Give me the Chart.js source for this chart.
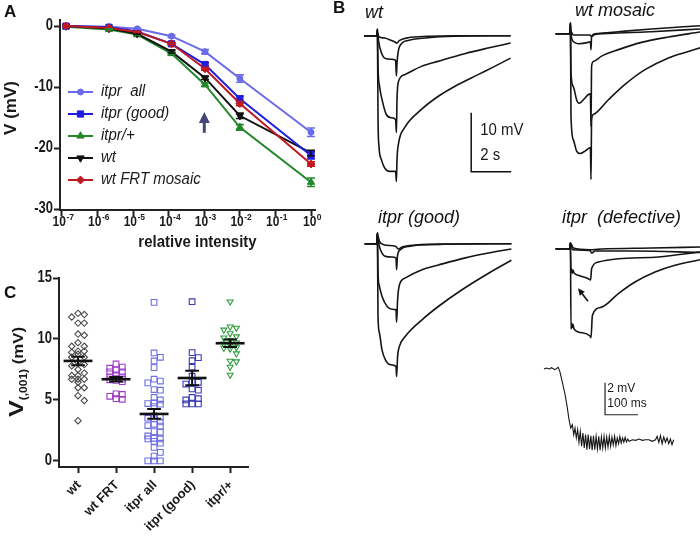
<!DOCTYPE html>
<html><head><meta charset="utf-8">
<script src="https://cdn.jsdelivr.net/npm/chart.js@4.4.1/dist/chart.umd.min.js"></script>
<style>
html,body{margin:0;padding:0;background:#fff;width:700px;height:536px;overflow:hidden;}
#wrap{position:relative;width:700px;height:536px;overflow:hidden;}
canvas{position:absolute;}
.lbl{position:absolute;font-family:"Liberation Sans",Arial,sans-serif;color:#111;white-space:pre;line-height:1;}
.pl{font-weight:bold;font-size:17px;}
.it{font-style:italic;font-size:18px;}
</style></head><body>
<div id="wrap">
<canvas id="cA" width="335" height="260" style="left:0;top:0"></canvas>
<canvas id="cC" width="335" height="266" style="left:0;top:270px"></canvas>
<canvas id="bWt" width="173" height="171" style="left:362px;top:18px"></canvas>
<canvas id="bMos" width="173" height="171" style="left:555px;top:16px"></canvas>
<canvas id="bGood" width="173" height="171" style="left:362px;top:226px"></canvas>
<canvas id="bDef" width="173" height="171" style="left:555px;top:231px"></canvas>
<canvas id="bIns" width="141" height="96" style="left:542px;top:361px"></canvas>
<div class="lbl pl" style="left:4px;top:3px">A</div>
<div class="lbl pl" style="left:333px;top:-1px">B</div>
<div class="lbl pl" style="left:4px;top:284px">C</div>
<div class="lbl it" style="left:365px;top:3px">wt</div>
<div class="lbl it" style="left:575px;top:1px">wt mosaic</div>
<div class="lbl it" style="left:378px;top:208px">itpr (good)</div>
<div class="lbl it" style="left:562px;top:208px">itpr  (defective)</div>
</div>
<script>
// ---------------- Panel A data ----------------
const intensity = [1.3e-7, 2.1e-6, 1.3e-5, 1.2e-4, 1.05e-3, 1e-2, 1];
const seriesLabels = ['itpr  all', 'itpr (good)', 'itpr/+', 'wt', 'wt FRT mosaic'];
const vItprAll  = [0, -0.1, -0.45, -1.65, -4.2, -8.6, -17.4];
const vItprGood = [0, -0.2, -0.9, -2.9, -6.3, -11.9, -21.2];
const vItprHet  = [-0.1, -0.55, -1.4, -4.5, -9.6, -16.6, -25.6];
const vWt       = [0, -0.4, -1.25, -4.2, -8.5, -14.7, -20.8];
const vWtFrt    = [0, -0.3, -0.95, -2.9, -7.0, -12.7, -22.6];
const eItprAll  = [0, 0, 0.1, 0.2, 0.35, 0.6, 0.7];
const eItprGood = [0, 0, 0.1, 0.2, 0.3, 0.45, 0.6];
const eItprHet  = [0, 0.1, 0.1, 0.2, 0.3, 0.45, 0.7];
const eWt       = [0, 0, 0.1, 0.2, 0.25, 0.45, 0.45];
const eWtFrt    = [0, 0, 0.1, 0.15, 0.25, 0.35, 0.35];
const xTickExp  = [-7, -6, -5, -4, -3, -2, -1, 0];
const yTicksA   = [0, -10, -20, -30];
const arrowIntensity = 1e-3;
const arrowFromTo = [-17.5, -14.1];

// ---------------- Panel C data ----------------
const groupLabels = ['wt', 'wt FRT', 'itpr all', 'itpr (good)', 'itpr/+'];
const cWt = [12.1, 12.0, 11.8, 11.3, 11.3, 10.4, 10.3, 9.7, 9.4, 9.4, 9.0, 9.0, 8.9, 8.75, 8.5, 8.5, 8.1, 7.9, 7.8, 7.5, 7.2, 7.0, 7.0, 6.7, 6.7, 6.7, 6.45, 6.0, 6.0, 5.35, 4.95, 3.3];
const cWtFrt = [7.95, 7.7, 7.6, 7.45, 7.3, 7.3, 7.05, 6.9, 6.9, 6.75, 6.7, 6.65, 6.6, 6.5, 5.5, 5.45, 5.3, 5.1, 5.05];
const cItprAll = [13.0, 8.85, 8.5, 8.2, 7.65, 6.7, 6.55, 6.4, 5.85, 5.8, 5.2, 5.0, 4.75, 4.7, 4.65, 4.45, 3.7, 3.6, 3.5, 3.45, 3.2, 3.0, 2.9, 2.85, 2.4, 2.35, 2.05, 1.85, 1.8, 1.8, 1.6, 1.45, 1.1, 0.7, 0.4, 0.0, 0.0, 0.0];
const cItprGood = [13.06, 8.88, 8.47, 8.22, 7.68, 6.95, 6.5, 6.45, 6.3, 5.9, 5.8, 5.2, 5.1, 5.0, 4.67, 4.67, 4.67];
const cItprHet = [13.06, 11.0, 10.9, 10.75, 10.45, 10.2, 10.1, 9.9, 9.7, 9.6, 9.5, 9.3, 9.25, 9.2, 8.8, 8.2, 8.15, 7.7, 7.05];
const groupMeans = [8.2, 6.7, 3.85, 6.8, 9.65];
const groupSems  = [0.35, 0.18, 0.4, 0.6, 0.3];
const yTicksC = [0, 5, 10, 15];

// ---------------- Panel B traces: [time s, mV] ----------------
const wtTr1 = [[-0.65,0],[-0.02,0],[0.02,0.45],[0.08,-0.1],[0.38,-0.4],[0.72,-0.8],[0.92,-1.1],[0.98,-1.25],[1.13,-0.8],[1.55,-0.35],[2.55,-0.1],[3.88,0],[6.68,0]];
const wtTr2 = [[-0.65,0],[-0.02,0],[0.02,0.9],[0.08,-0.95],[0.22,-2.9],[0.38,-3.8],[0.72,-4.0],[0.93,-4.2],[0.97,-6.8],[1.0,-4.6],[1.13,-1.8],[1.55,-0.8],[2.55,-0.35],[3.88,-0.1],[6.68,0]];
const wtTr3 = [[-0.65,0],[-0.02,0],[0.02,1.1],[0.05,-5.2],[0.13,-8.6],[0.25,-10.8],[0.47,-13.4],[0.72,-13.9],[0.93,-14.2],[0.97,-16.4],[1.0,-10.8],[1.08,-7.7],[1.38,-6.6],[2.22,-5.2],[3.05,-4.35],[4.38,-3.05],[5.55,-2.1],[6.68,-1.25]];
const wtTr4 = [[-0.65,0],[-0.02,0],[0.02,1.1],[0.05,-13.7],[0.1,-18.8],[0.22,-21],[0.38,-22.4],[0.63,-23],[0.93,-23],[0.97,-24.7],[1.0,-21],[1.08,-18.2],[1.38,-15.6],[2.22,-12.5],[3.05,-10.3],[3.88,-8.6],[5.05,-6.6],[5.88,-5.2],[6.68,-3.8]];

const mosTr1 = [[-0.72,0],[-0.02,0],[0.05,0.34],[0.17,-0.23],[1.0,-0.23],[1.08,-0.45],[1.25,-0.11],[2.42,0.11],[4.08,0.34],[6.5,0.8]];
const mosTr2 = [[-0.72,0],[-0.02,0],[0.02,1.8],[0.08,-0.73],[0.22,-1.47],[0.42,-1.7],[0.92,-1.47],[1.02,-1.36],[1.05,-2.7],[1.08,-0.45],[1.25,0],[2.42,0.34],[4.08,0.8],[6.5,1.36]];
const mosTr3 = [[-0.72,0],[-0.02,0],[0.02,1.8],[0.05,-6.7],[0.17,-9.0],[0.33,-11.2],[0.45,-11.8],[0.75,-10.9],[0.92,-10.3],[1.02,-10.2],[1.05,-15.7],[1.08,-5.5],[1.17,-4.7],[1.58,-3.8],[2.42,-2.7],[3.58,-1.47],[4.92,-0.56],[6.5,0.28]];
const mosTr4 = [[-0.72,0],[-0.02,0],[0.02,1.8],[0.05,-14.0],[0.17,-18.0],[0.33,-19.9],[0.5,-20.3],[0.75,-19.9],[0.95,-19.4],[1.02,-19.3],[1.05,-24.7],[1.08,-14.6],[1.17,-13.7],[1.92,-11.2],[2.75,-8.6],[3.75,-6.1],[4.92,-4.1],[5.92,-3.0],[6.5,-2.4]];

const goodTr1 = [[-0.62,0],[-0.02,0],[0.02,1.5],[0.12,0.4],[0.33,-0.17],[0.92,-0.45],[1.08,-0.9],[1.25,-0.56],[1.92,-0.23],[3.92,-0.06],[6.72,0]];
const goodTr2 = [[-0.62,0],[-0.02,0],[0.02,1.8],[0.12,-0.45],[0.25,-1.58],[0.42,-2.15],[0.75,-2.26],[0.95,-2.43],[0.98,-4.4],[1.02,-2.15],[1.17,-1.0],[1.58,-0.45],[3.08,-0.11],[6.72,0]];
const goodTr3 = [[-0.62,0],[-0.02,0],[0.02,1.8],[0.05,-4.97],[0.12,-7.2],[0.25,-8.9],[0.5,-10.6],[0.75,-11.1],[0.95,-11.2],[0.98,-13.3],[1.03,-9.5],[1.12,-7.0],[1.42,-5.8],[2.25,-4.4],[3.08,-3.6],[4.42,-2.4],[5.58,-1.58],[6.72,-0.9]];
const goodTr4 = [[-0.62,0],[-0.02,0],[0.02,1.8],[0.05,-12.3],[0.12,-15.1],[0.25,-18],[0.42,-19.7],[0.67,-20.5],[0.95,-20.8],[0.98,-22.5],[1.03,-19.1],[1.12,-17.4],[1.42,-15.7],[2.25,-12.9],[3.08,-10.6],[4.25,-7.8],[5.58,-5.0],[6.72,-2.8]];

const defTr1 = [[-0.72,0],[-0.02,0],[0.02,0.96],[0.17,0.11],[1.0,-0.17],[1.12,-0.17],[1.58,-0.06],[4.08,0.11],[6.5,0.28]];
const defTr2 = [[-0.72,0],[-0.02,0],[0.02,0.96],[0.12,-0.17],[1.0,-0.28],[1.08,-0.73],[1.25,-0.4],[3.25,-0.4],[6.5,-0.62]];
const defTr3 = [[-0.72,0],[-0.02,0],[0.02,0.96],[0.05,-4.0],[0.08,-3.4],[0.11,-4.2],[0.15,-3.6],[0.2,-4.1],[0.42,-4.5],[0.92,-5.1],[1.03,-5.3],[1.08,-3.4],[1.42,-2.26],[2.42,-1.7],[4.42,-1.4],[6.5,-0.56]];
const defTr4 = [[-0.72,0],[-0.02,0],[0.02,0.96],[0.05,-13.6],[0.08,-12.6],[0.11,-13.4],[0.15,-12.8],[0.2,-13.6],[0.42,-14.1],[1.0,-14.8],[1.05,-15.1],[1.12,-11.3],[1.58,-9.9],[2.42,-7.6],[3.25,-5.65],[4.25,-3.95],[5.25,-2.8],[6.5,-1.86]];

// inset: [time ms, mV]
const insetTrace = [[0,0],[8,0.06],[16,0],[23,0.08],[33,-0.04],[43,0.1],[48,-0.15],[55,-0.77],[63,-1.5],[70,-2.33],[76,-3.17],[81,-3.69],[86,-3.48],[90,-4.1],[94,-3.69],[98,-4.31],[102,-3.79],[106,-4.58],[110,-3.9],[114,-4.83],[118,-4.0],[122,-4.94],[126,-4.1],[130,-5.04],[134,-4.1],[138,-5.0],[142,-4.17],[146,-5.08],[150,-4.17],[154,-5.04],[158,-4.21],[162,-5.0],[166,-4.21],[170,-5.08],[174,-4.25],[178,-4.94],[182,-4.21],[186,-4.94],[190,-4.25],[194,-4.88],[198,-4.21],[202,-4.83],[206,-4.25],[210,-4.75],[214,-4.21],[218,-4.79],[222,-4.31],[226,-4.67],[230,-4.21],[234,-4.63],[238,-4.31],[242,-4.58],[246,-4.27],[250,-4.56],[254,-4.38],[258,-4.52],[268,-4.42],[278,-4.46],[288,-4.38],[298,-4.46],[308,-4.42],[318,-4.42],[328,-4.52],[338,-4.42],[343,-4.21],[348,-4.58],[353,-4.17],[358,-4.67],[363,-4.25],[368,-4.58],[373,-4.31],[378,-4.67],[383,-4.38],[388,-4.73],[393,-4.42]];

// ================= rendering =================
const FONT = '"Liberation Sans", Arial, sans-serif';
Chart.defaults.font.family = FONT;
Chart.defaults.animation = false;
const TXT = '#1a1a1a';

function sText(ctx, txt, x, y, font, align, base, sy) {
  ctx.save(); ctx.translate(x, y); ctx.scale(1, sy || 1);
  ctx.font = font; ctx.textAlign = align; ctx.textBaseline = base; ctx.fillStyle = TXT;
  ctx.fillText(txt, 0, 0); ctx.restore();
}
function axisOpts(extra) {
  return Object.assign({
    border: {display: true, color: '#222', width: 2},
    grid: {display: true, drawOnChartArea: false, drawTicks: true, tickLength: 6, tickWidth: 2, tickColor: '#222'},
    ticks: {display: false}
  }, extra);
}

// ---------- Panel A ----------
const colorsA = ['#6b6bea', '#1e1ee0', '#22882a', '#111111', '#c01a20'];
const ptA = [
  {pointStyle: 'circle', radius: 3, rotation: 0},
  {pointStyle: 'rect', radius: 4.4, rotation: 0},
  {pointStyle: 'triangle', radius: 4.2, rotation: 0},
  {pointStyle: 'triangle', radius: 4.2, rotation: 180},
  {pointStyle: 'rectRot', radius: 4, rotation: 0}
];
const valsA = [vItprAll, vItprGood, vItprHet, vWt, vWtFrt];
const errA = [eItprAll, eItprGood, eItprHet, eWt, eWtFrt];
const drawOrder = [5, 2, 4, 3, 1];

const panelAPlugin = {
  id: 'panelA',
  afterDatasetsDraw(chart) {
    const {ctx, scales: {x, y}} = chart;
    chart.data.datasets.forEach((ds, i) => {
      ctx.save(); ctx.strokeStyle = ds.borderColor; ctx.lineWidth = 1.6;
      ds.data.forEach((p, j) => {
        const e = errA[i][j]; if (!e) return;
        const px = x.getPixelForValue(p.x);
        const y1 = y.getPixelForValue(p.y + e), y2 = y.getPixelForValue(p.y - e);
        ctx.beginPath();
        ctx.moveTo(px, y1); ctx.lineTo(px, y2);
        ctx.moveTo(px - 4, y1); ctx.lineTo(px + 4, y1);
        ctx.moveTo(px - 4, y2); ctx.lineTo(px + 4, y2);
        ctx.stroke();
      });
      ctx.restore();
    });
  },
  afterDraw(chart) {
    const {ctx, scales: {x, y}, chartArea} = chart;
    xTickExp.forEach(e => {
      const px = x.getPixelForValue(Number('1e' + e));
      ctx.save();
      ctx.font = 'bold 12px ' + FONT; const w1 = ctx.measureText('10').width;
      ctx.font = 'bold 8.5px ' + FONT; const w2 = ctx.measureText(String(e)).width;
      ctx.restore();
      const sx = px - (w1 + w2) / 2 + 1;
      sText(ctx, '10', sx, chartArea.bottom + 16, 'bold 12px ' + FONT, 'left', 'alphabetic', 1.2);
      sText(ctx, String(e), sx + w1 + 0.5, chartArea.bottom + 10, 'bold 8.5px ' + FONT, 'left', 'alphabetic', 1.15);
    });
    yTicksA.forEach(v => {
      sText(ctx, String(v), chartArea.left - 7, y.getPixelForValue(v), 'bold 13px ' + FONT, 'right', 'middle', 1.2);
    });
    sText(ctx, 'relative intensity', (chartArea.left + chartArea.right) / 2 + 10, chartArea.bottom + 33, 'bold 15px ' + FONT, 'center', 'middle', 1.05);
    ctx.save(); ctx.translate(15.5, 108); ctx.rotate(-Math.PI / 2);
    ctx.font = 'bold 17px ' + FONT; ctx.fillStyle = TXT; ctx.textAlign = 'center'; ctx.textBaseline = 'alphabetic';
    ctx.fillText('V (mV)', 0, 0); ctx.restore();
    chart.data.datasets.forEach((ds, i) => {
      const ly = 92 + 22 * i;
      ctx.save();
      ctx.strokeStyle = ds.borderColor; ctx.lineWidth = 2;
      ctx.beginPath(); ctx.moveTo(68, ly); ctx.lineTo(93, ly); ctx.stroke();
      ctx.fillStyle = ds.borderColor; ctx.strokeStyle = ds.borderColor; ctx.lineWidth = 1;
      Chart.helpers.drawPoint(ctx, {pointStyle: ptA[i].pointStyle, rotation: ptA[i].rotation, radius: ptA[i].radius, borderWidth: 1}, 80.5, ly);
      ctx.restore();
      sText(ctx, seriesLabels[i], 101, ly, 'italic 15px ' + FONT, 'left', 'middle', 1.05);
    });
    const ax = x.getPixelForValue(arrowIntensity);
    const yTail = y.getPixelForValue(arrowFromTo[0]), yTip = y.getPixelForValue(arrowFromTo[1]);
    ctx.save(); ctx.fillStyle = '#46467a'; ctx.strokeStyle = '#46467a'; ctx.lineWidth = 3;
    ctx.beginPath(); ctx.moveTo(ax, yTail); ctx.lineTo(ax, yTip + 8); ctx.stroke();
    ctx.beginPath(); ctx.moveTo(ax, yTip); ctx.lineTo(ax - 5.5, yTip + 11); ctx.lineTo(ax + 5.5, yTip + 11); ctx.closePath(); ctx.fill();
    ctx.restore();
  }
};

new Chart(document.getElementById('cA'), {
  type: 'line',
  data: {
    datasets: valsA.map((vals, i) => ({
      label: seriesLabels[i],
      data: intensity.map((xv, j) => ({x: xv, y: vals[j]})),
      borderColor: colorsA[i], backgroundColor: colorsA[i],
      borderWidth: 2, tension: 0,
      pointStyle: ptA[i].pointStyle, pointRotation: ptA[i].rotation,
      pointRadius: ptA[i].radius, pointBorderWidth: 1,
      order: drawOrder[i]
    }))
  },
  options: {
    responsive: false, events: [],
    layout: {padding: {left: 0, top: 20, right: 20, bottom: 0}},
    plugins: {legend: {display: false}, tooltip: {enabled: false}},
    scales: {
      x: axisOpts({type: 'logarithmic', min: Math.pow(10, -7.056), max: Math.pow(10, 0.112),
        afterBuildTicks: s => { s.ticks = xTickExp.map(e => ({value: Number('1e' + e)})); },
        afterFit: s => { s.height = 50; }}),
      y: axisOpts({type: 'linear', min: -30.15, max: 1,
        afterBuildTicks: s => { s.ticks = yTicksA.map(v => ({value: v})); },
        afterFit: s => { s.width = 60; }})
    }
  },
  plugins: [panelAPlugin]
});

// ---------- Panel C ----------
const groupsC = [cWt, cWtFrt, cItprAll, cItprGood, cItprHet];
const colorsC = ['#4a4a4a', '#a03cc8', '#6e6ee6', '#3a3ab4', '#2f9a3c'];
const ptC = [
  {pointStyle: 'rectRot', radius: 3.2, rotation: 0},
  {pointStyle: 'rect', radius: 4, rotation: 0},
  {pointStyle: 'rect', radius: 4, rotation: 0},
  {pointStyle: 'rect', radius: 4, rotation: 0},
  {pointStyle: 'triangle', radius: 3.4, rotation: 180}
];
// arrange points of one group in three columns (centre, right, left), as in a column scatter plot
function swarm(vals, cat) {
  const step = 0.165, dyMin = 0.45, placed = [];
  const cands = [0, step, -step];
  return vals.slice().sort((a, b) => b - a).map(v => {
    let best = 0, bestGap = -1;
    for (const c of cands) {
      const same = placed.filter(p => Math.abs(p.x - c) < step * 0.5);
      const gap = same.length ? Math.min(...same.map(p => Math.abs(p.y - v))) : Infinity;
      if (gap >= dyMin) { best = c; bestGap = gap; break; }
      if (gap > bestGap) { best = c; bestGap = gap; }
    }
    placed.push({x: best, y: v});
    return {x: cat + best, y: v};
  });
}
const panelCPlugin = {
  id: 'panelC',
  afterDatasetsDraw(chart) {
    const {ctx, scales: {x, y}} = chart;
    ctx.save(); ctx.strokeStyle = '#111'; ctx.lineCap = 'butt';
    groupMeans.forEach((m, i) => {
      const cx = x.getPixelForValue(i + 1);
      const hw = x.getPixelForValue(i + 1 + 0.38) - cx;
      const cw = x.getPixelForValue(i + 1 + 0.18) - cx;
      const ym = y.getPixelForValue(m), yt = y.getPixelForValue(m + groupSems[i]), yb = y.getPixelForValue(m - groupSems[i]);
      ctx.lineWidth = 2.6;
      ctx.beginPath(); ctx.moveTo(cx - hw, ym); ctx.lineTo(cx + hw, ym); ctx.stroke();
      ctx.lineWidth = 2;
      ctx.beginPath(); ctx.moveTo(cx, yt); ctx.lineTo(cx, yb);
      ctx.moveTo(cx - cw, yt); ctx.lineTo(cx + cw, yt);
      ctx.moveTo(cx - cw, yb); ctx.lineTo(cx + cw, yb); ctx.stroke();
    });
    ctx.restore();
  },
  afterDraw(chart) {
    const {ctx, scales: {x, y}, chartArea} = chart;
    yTicksC.forEach(v => {
      sText(ctx, String(v), chartArea.left - 7, y.getPixelForValue(v), 'bold 13px ' + FONT, 'right', 'middle', 1.2);
    });
    groupLabels.forEach((lab, i) => {
      const cx = x.getPixelForValue(i + 1);
      ctx.save(); ctx.translate(cx + 1, chartArea.bottom + 16); ctx.rotate(-Math.PI / 4);
      ctx.font = 'bold 13px ' + FONT; ctx.fillStyle = TXT; ctx.textAlign = 'right'; ctx.textBaseline = 'middle';
      ctx.fillText(lab, 0, 0); ctx.restore();
    });
    ctx.save();
    ctx.translate(23, 102); ctx.rotate(-Math.PI / 2); ctx.scale(1.2, 1);
    ctx.fillStyle = TXT; ctx.textBaseline = 'alphabetic'; ctx.textAlign = 'left';
    ctx.font = 'bold 21px ' + FONT; const wV = ctx.measureText('V').width;
    ctx.font = 'bold 10px ' + FONT; const wS = ctx.measureText('(,001)').width;
    ctx.font = 'bold 14px ' + FONT; const wM = ctx.measureText(' (mV)').width;
    let sx = -(wV + wS + wM) / 2;
    ctx.font = 'bold 21px ' + FONT; ctx.fillText('V', sx, 0); sx += wV;
    ctx.font = 'bold 10px ' + FONT; ctx.fillText('(,001)', sx, 4); sx += wS;
    ctx.font = 'bold 14px ' + FONT; ctx.fillText(' (mV)', sx, 0);
    ctx.restore();
  }
};
new Chart(document.getElementById('cC'), {
  type: 'scatter',
  data: {
    datasets: groupsC.map((vals, i) => ({
      label: groupLabels[i],
      data: swarm(vals, i + 1),
      borderColor: colorsC[i], backgroundColor: 'rgba(255,255,255,0)',
      pointStyle: ptC[i].pointStyle, pointRotation: ptC[i].rotation,
      pointRadius: ptC[i].radius, pointBorderWidth: 1.1
    }))
  },
  options: {
    responsive: false, events: [],
    layout: {padding: {left: 0, top: 8, right: 87, bottom: 0}},
    plugins: {legend: {display: false}, tooltip: {enabled: false}},
    scales: {
      x: axisOpts({type: 'linear', min: 0.5, max: 5.47,
        afterBuildTicks: s => { s.ticks = groupLabels.map((l, i) => ({value: i + 1})); },
        afterFit: s => { s.height = 69; }}),
      y: axisOpts({type: 'linear', min: -0.5, max: 15,
        afterBuildTicks: s => { s.ticks = yTicksC.map(v => ({value: v})); },
        afterFit: s => { s.width = 59; }})
    }
  },
  plugins: [panelCPlugin]
});

// ---------- Panel B ----------
const PX_PER_S = 20, PX_PER_MV = 5.9;
function traceChart(id, traces, extraPlugin) {
  const cv = document.getElementById(id);
  const xmin = -0.75, ymax = 3;
  return new Chart(cv, {
    type: 'line',
    data: {datasets: traces.map(tr => ({
      data: tr.map(([t, v]) => ({x: t, y: v})),
      borderColor: '#151515', borderWidth: 1.6, pointRadius: 0,
      cubicInterpolationMode: 'monotone', fill: false, clip: false
    }))},
    options: {
      responsive: false, events: [], layout: {padding: 0},
      plugins: {legend: {display: false}, tooltip: {enabled: false}},
      scales: {
        x: {type: 'linear', display: false, min: xmin, max: xmin + cv.width / PX_PER_S},
        y: {type: 'linear', display: false, min: ymax - cv.height / PX_PER_MV, max: ymax}
      }
    },
    plugins: extraPlugin ? [extraPlugin] : []
  });
}
const scaleBarPlugin = {
  id: 'scaleBar',
  afterDatasetsDraw(chart) {
    const {ctx, scales: {x, y}} = chart;
    const x0 = x.getPixelForValue(4.71), x1 = x.getPixelForValue(4.71 + 2);
    const yb = y.getPixelForValue(-23.05), yt = y.getPixelForValue(-23.05 + 10);
    ctx.save(); ctx.strokeStyle = '#111'; ctx.lineWidth = 1.5;
    ctx.beginPath(); ctx.moveTo(x0, yt); ctx.lineTo(x0, yb); ctx.lineTo(x1, yb); ctx.stroke(); ctx.restore();
    sText(ctx, '10 mV', x.getPixelForValue(5.16), y.getPixelForValue(-16.1), '15px ' + FONT, 'left', 'middle', 1.1);
    sText(ctx, '2 s', x.getPixelForValue(5.16), y.getPixelForValue(-20.3), '15px ' + FONT, 'left', 'middle', 1.1);
  }
};
const arrowPlugin = {
  id: 'defArrow',
  afterDatasetsDraw(chart) {
    const {ctx, scales: {x, y}} = chart;
    const tx = x.getPixelForValue(0.4), ty = y.getPixelForValue(-6.7);
    const fx = x.getPixelForValue(0.9), fy = y.getPixelForValue(-8.9);
    const ang = Math.atan2(ty - fy, tx - fx);
    ctx.save(); ctx.strokeStyle = '#111'; ctx.fillStyle = '#111'; ctx.lineWidth = 1.6;
    ctx.beginPath(); ctx.moveTo(fx, fy); ctx.lineTo(tx - 4 * Math.cos(ang), ty - 4 * Math.sin(ang)); ctx.stroke();
    ctx.beginPath(); ctx.moveTo(tx, ty);
    ctx.lineTo(tx - 7 * Math.cos(ang) + 3.2 * Math.sin(ang), ty - 7 * Math.sin(ang) - 3.2 * Math.cos(ang));
    ctx.lineTo(tx - 7 * Math.cos(ang) - 3.2 * Math.sin(ang), ty - 7 * Math.sin(ang) + 3.2 * Math.cos(ang));
    ctx.closePath(); ctx.fill(); ctx.restore();
  }
};
traceChart('bWt', [wtTr1, wtTr2, wtTr3, wtTr4], scaleBarPlugin);
traceChart('bMos', [mosTr1, mosTr2, mosTr3, mosTr4]);
traceChart('bGood', [goodTr1, goodTr2, goodTr3, goodTr4]);
traceChart('bDef', [defTr1, defTr2, defTr3, defTr4], arrowPlugin);

const insetPlugin = {
  id: 'insetBar',
  afterDatasetsDraw(chart) {
    const {ctx, scales: {x, y}} = chart;
    const x0 = x.getPixelForValue(185), x1 = x.getPixelForValue(185 + 100);
    const yt = y.getPixelForValue(-0.86), yb = y.getPixelForValue(-0.86 - 2);
    ctx.save(); ctx.strokeStyle = '#222'; ctx.lineWidth = 1.2;
    ctx.beginPath(); ctx.moveTo(x0, yt); ctx.lineTo(x0, yb); ctx.lineTo(x1, yb); ctx.stroke(); ctx.restore();
    sText(ctx, '2 mV', x.getPixelForValue(192), y.getPixelForValue(-1.25), '12px ' + FONT, 'left', 'middle', 1.05);
    sText(ctx, '100 ms', x.getPixelForValue(192), y.getPixelForValue(-2.17), '12px ' + FONT, 'left', 'middle', 1.05);
  }
};
(function () {
  const cv = document.getElementById('bIns');
  const pxPerMs = 0.33, pxPerMv = 16;
  new Chart(cv, {
    type: 'line',
    data: {datasets: [{data: insetTrace.map(([t, v]) => ({x: t, y: v})), borderColor: '#151515', borderWidth: 1.1, pointRadius: 0, tension: 0, fill: false, clip: false}]},
    options: {
      responsive: false, events: [], layout: {padding: 0},
      plugins: {legend: {display: false}, tooltip: {enabled: false}},
      scales: {
        x: {type: 'linear', display: false, min: -6, max: -6 + cv.width / pxPerMs},
        y: {type: 'linear', display: false, min: 0.5 - cv.height / pxPerMv, max: 0.5}
      }
    },
    plugins: [insetPlugin]
  });
})();
</script>
</body></html>
